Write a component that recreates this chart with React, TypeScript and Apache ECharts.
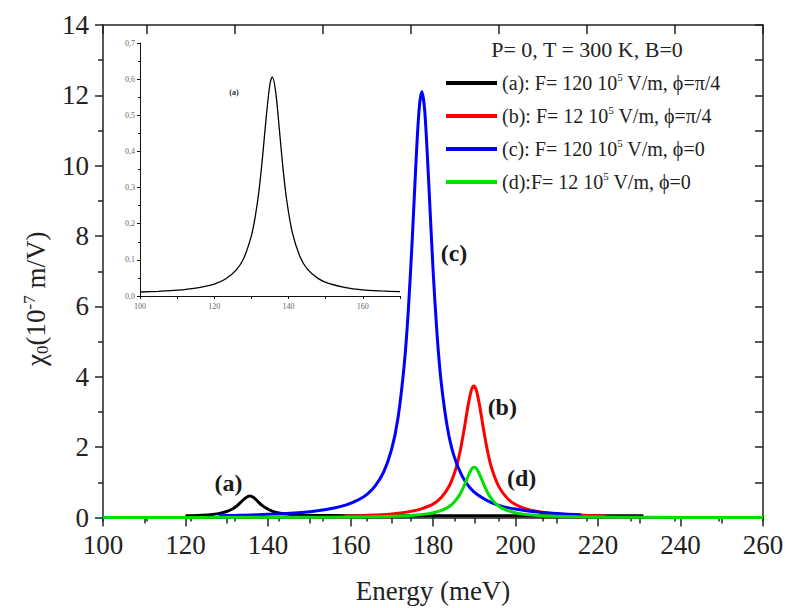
import React, { useEffect, useRef } from 'react';
import * as echarts from 'echarts';

const SERIF = "'Liberation Serif', serif";

// Inset: curve (a) enlarged
const insetX = [100, 105, 110, 115, 120, 123, 126, 128, 130, 131, 132, 133, 134, 135, 135.6, 136.5, 137.5, 138.5, 139.5, 141, 143, 145, 148, 151, 155, 160, 165, 170];
const insetY = [0.011, 0.013, 0.016, 0.022, 0.033, 0.047, 0.073, 0.106, 0.167, 0.218, 0.289, 0.385, 0.497, 0.588, 0.606, 0.567, 0.463, 0.353, 0.265, 0.176, 0.111, 0.075, 0.048, 0.034, 0.024, 0.017, 0.014, 0.012];
const insetXTicks = [100, 170, 20];
const insetYTicks = [0, 0.7, 0.1];

// (a) F=120, phi=pi/4 (black)
const aX = [120, 123, 126, 128, 130, 131, 132, 133, 134, 135, 135.6, 136.5, 137.5, 138.5, 139.5, 141, 143, 146, 150, 155, 165, 180, 200, 231];
const aY = [0.05, 0.06, 0.08, 0.11, 0.17, 0.22, 0.29, 0.39, 0.5, 0.59, 0.61, 0.57, 0.46, 0.35, 0.27, 0.18, 0.12, 0.08, 0.06, 0.055, 0.05, 0.05, 0.05, 0.05];

// (b) F=12, phi=pi/4 (red)
const bX = [158.5, 162, 166, 170, 174, 177, 180, 182, 184, 185.5, 186.5, 187.5, 188.5, 189.3, 189.9, 190.5, 191.3, 192.3, 193.3, 194.3, 196, 198, 200, 203, 206, 210, 215, 222];
const bY = [0.04, 0.05, 0.07, 0.1, 0.16, 0.24, 0.38, 0.57, 0.91, 1.37, 1.84, 2.47, 3.18, 3.62, 3.74, 3.62, 3.18, 2.47, 1.84, 1.37, 0.87, 0.55, 0.37, 0.23, 0.16, 0.1, 0.07, 0.04];

// (c) F=120, phi=0 (blue)
const cX = [128, 132, 136, 140, 144, 148, 152, 156, 159, 162, 164, 166, 168, 170, 171.5, 173, 174, 175, 176, 176.7, 177.3, 178, 179, 180, 181, 182, 183.5, 185, 187, 189, 191, 194, 197, 200, 204, 208, 212, 216];
const cY = [0.05, 0.06, 0.07, 0.09, 0.11, 0.14, 0.19, 0.27, 0.36, 0.51, 0.66, 0.9, 1.28, 1.95, 2.82, 4.31, 5.86, 7.98, 10.39, 11.69, 12.1, 11.55, 9.44, 7.07, 5.18, 3.83, 2.55, 1.78, 1.19, 0.84, 0.63, 0.43, 0.31, 0.24, 0.17, 0.13, 0.1, 0.08];

// (d) F=12, phi=0 (green)
const dX = [100, 120, 140, 155, 165, 172, 176, 179, 181.5, 183.5, 185, 186.5, 187.5, 188.5, 189.4, 190, 190.6, 191.5, 192.5, 193.5, 195, 196.5, 198.5, 201, 204, 208, 215, 225, 240, 260];
const dY = [0, 0, 0.01, 0.01, 0.02, 0.04, 0.07, 0.11, 0.18, 0.28, 0.42, 0.65, 0.89, 1.17, 1.38, 1.43, 1.38, 1.17, 0.89, 0.65, 0.42, 0.28, 0.18, 0.11, 0.07, 0.04, 0.02, 0.01, 0, 0];

const seriesColors = ['#000000', '#ff0000', '#0000ff', '#00e000'];
const legendParts = [
  ['(a): F= 120 10', '5', ' V/m, ϕ=π/4'],
  ['(b): F= 12 10', '5', ' V/m, ϕ=π/4'],
  ['(c): F= 120 10', '5', ' V/m, ϕ=0'],
  ['(d):F= 12 10', '5', ' V/m, ϕ=0'],
];
const legendTitle = 'P= 0, T = 300 K, B=0';

const mainXTicks = [100, 260, 20];
const mainYTicks = [0, 14, 2];

const annotText = ['(a)', '(b)', '(c)', '(d)'];
const annotX = [130.4, 196.8, 185.1, 201.5];
const annotY = [0.97, 3.15, 7.52, 1.12];
const insetAnnot = { text: '(a)', x: 125.3, y: 0.562 };

const zip = (xs: number[], ys: number[]) => xs.map((x, i) => [x, ys[i]]);

export default function App() {
  const ref = useRef<HTMLDivElement>(null);
  useEffect(() => {
    document.body.style.margin = '0';
    const chart = echarts.init(ref.current!, null, { renderer: 'svg' });
    const names = legendParts.map((p) => p.join(''));
    const dataSets = [zip(aX, aY), zip(bX, bY), zip(cX, cY), zip(dX, dY)];
    const axisColor = '#222';
    const lineStyle = { color: axisColor, width: 1.5 };

    const mainSeries = dataSets.map((data, i) => ({
      name: names[i],
      type: 'line',
      xAxisIndex: 0,
      yAxisIndex: 0,
      data,
      smooth: 0.3,
      showSymbol: false,
      symbol: 'none',
      clip: false,
      color: seriesColors[i],
      lineStyle: { color: seriesColors[i], width: 3 },
      z: 3 + i,
      markPoint: {
        symbol: 'rect',
        symbolSize: 1,
        itemStyle: { color: 'rgba(0,0,0,0)' },
        label: {
          show: true,
          position: 'inside',
          formatter: annotText[i],
          fontFamily: SERIF,
          fontWeight: 'bold',
          fontSize: 24,
          color: '#1a1a1a',
        },
        data: [{ coord: [annotX[i], annotY[i]] }],
      },
    }));

    const option: any = {
      animation: false,
      backgroundColor: '#ffffff',
      textStyle: { fontFamily: SERIF },
      grid: [
        { left: 103, top: 25, width: 660, height: 492.5, outerBoundsMode: 'none' },
        { left: 140, top: 43, width: 260, height: 253, outerBoundsMode: 'none' },
        { left: 103, top: 25, width: 660, height: 492.5, outerBoundsMode: 'none' },
      ],
      xAxis: [
        {
          gridIndex: 0, type: 'value', position: 'bottom',
          min: mainXTicks[0], max: mainXTicks[1], interval: mainXTicks[2],
          name: 'Energy (meV)', nameLocation: 'middle', nameGap: 60,
          nameTextStyle: { fontFamily: SERIF, fontSize: 27, color: axisColor },
          axisLine: { show: true, onZero: false, lineStyle },
          axisTick: { show: true, inside: false, length: 9, lineStyle },
          minorTick: { show: true, splitNumber: 2, length: 6, lineStyle },
          axisLabel: { fontFamily: SERIF, fontSize: 27, color: axisColor, margin: 14 },
          splitLine: { show: false },
          minorSplitLine: { show: false },
        },
        {
          gridIndex: 0, type: 'value', position: 'top', inverse: true,
          min: 0, max: 15, interval: 2,
          axisLine: { show: true, onZero: false, lineStyle },
          axisTick: { show: true, inside: true, length: 9, lineStyle },
          axisLabel: { show: false },
          splitLine: { show: false },
        },
        {
          gridIndex: 2, type: 'value', position: 'top',
          min: 0, max: 15, interval: 1,
          axisLine: { show: false },
          axisTick: { show: true, inside: true, length: 4, lineStyle },
          axisLabel: { show: false },
          splitLine: { show: false },
        },
        {
          gridIndex: 1, type: 'value', position: 'bottom',
          min: insetXTicks[0], max: insetXTicks[1], interval: insetXTicks[2],
          axisLine: { show: true, onZero: false, lineStyle: { color: '#111', width: 1 } },
          axisTick: { show: true, inside: false, length: 3, lineStyle: { color: '#111', width: 1 } },
          minorTick: { show: true, splitNumber: 2, length: 3, lineStyle: { color: '#111', width: 1 } },
          axisLabel: { fontFamily: SERIF, fontSize: 8, color: '#666', margin: 6, showMaxLabel: false },
          splitLine: { show: false },
        },
      ],
      yAxis: [
        {
          gridIndex: 0, type: 'value', position: 'left',
          min: mainYTicks[0], max: mainYTicks[1], interval: mainYTicks[2],
          name: '{t|χ}{sub|0}{t|(10}{sup|-7}{t| m/V)}',
          nameLocation: 'middle', nameRotate: 90, nameGap: 50,
          nameTextStyle: {
            fontFamily: SERIF, fontSize: 27, color: axisColor, padding: [0, 55, 0, 0],
            rich: {
              t: { fontFamily: SERIF, fontSize: 27, lineHeight: 30, color: axisColor },
              sub: { fontFamily: SERIF, fontSize: 17, lineHeight: 8, color: axisColor, verticalAlign: 'bottom' },
              sup: { fontFamily: SERIF, fontSize: 17, lineHeight: 14, color: axisColor, verticalAlign: 'top' },
            },
          },
          axisLine: { show: true, onZero: false, lineStyle },
          axisTick: { show: true, inside: false, length: 8, lineStyle },
          minorTick: { show: true, splitNumber: 2, length: 5, lineStyle },
          axisLabel: { fontFamily: SERIF, fontSize: 27, color: axisColor, margin: 14 },
          splitLine: { show: false },
        },
        {
          gridIndex: 0, type: 'value', position: 'right',
          min: 0, max: 14, interval: 1,
          axisLine: { show: true, onZero: false, lineStyle },
          axisTick: { show: true, inside: true, length: 8, lineStyle },
          axisLabel: { show: false },
          splitLine: { show: false },
        },
        {
          gridIndex: 2, type: 'value', show: false, min: 0, max: 1,
          splitLine: { show: false },
        },
        {
          gridIndex: 1, type: 'value', position: 'left',
          min: insetYTicks[0], max: insetYTicks[1], interval: insetYTicks[2],
          axisLine: { show: true, onZero: false, lineStyle: { color: '#111', width: 1 } },
          axisTick: { show: true, inside: false, length: 3, lineStyle: { color: '#111', width: 1 } },
          minorTick: { show: true, splitNumber: 2, length: 2, lineStyle: { color: '#111', width: 1 } },
          axisLabel: {
            fontFamily: SERIF, fontSize: 8, color: '#666', margin: 5,
            formatter: (v: number) => v.toFixed(1).replace('.', ','),
          },
          splitLine: { show: false },
        },
      ],
      legend: {
        data: names,
        orient: 'vertical',
        left: 446,
        top: 71,
        padding: 0,
        itemGap: 9,
        itemWidth: 51,
        itemHeight: 4,
        icon: 'rect',
        selectedMode: false,
        formatter: (name: string) => {
          const i = names.indexOf(name);
          const p = legendParts[i];
          return `{t|${p[0]}}{s|${p[1]}}{t|${p[2]}}`;
        },
        textStyle: {
          fontFamily: SERIF, fontSize: 20, color: axisColor, lineHeight: 24,
          rich: {
            t: { fontFamily: SERIF, fontSize: 20, color: axisColor, lineHeight: 24 },
            s: { fontFamily: SERIF, fontSize: 11, color: axisColor, lineHeight: 12, verticalAlign: 'top' },
          },
        },
      },
      graphic: [
        {
          type: 'text',
          x: 587,
          y: 49,
          style: {
            text: legendTitle,
            fontFamily: SERIF,
            fontSize: 22,
            fill: axisColor,
            align: 'center',
            verticalAlign: 'middle',
          },
        },
      ],
      series: [
        {
          name: 'inset',
          type: 'line',
          xAxisIndex: 3,
          yAxisIndex: 3,
          data: zip(insetX, insetY),
          smooth: 0.3,
          showSymbol: false,
          symbol: 'none',
          color: '#000',
          lineStyle: { color: '#000', width: 1.3 },
          markPoint: {
            symbol: 'rect',
            symbolSize: 1,
            itemStyle: { color: 'rgba(0,0,0,0)' },
            label: {
              show: true, position: 'inside', formatter: insetAnnot.text,
              fontFamily: SERIF, fontWeight: 'bold', fontSize: 8, color: '#333',
            },
            data: [{ coord: [insetAnnot.x, insetAnnot.y] }],
          },
        },
        ...mainSeries,
      ],
    };
    chart.setOption(option);
    return () => chart.dispose();
  }, []);
  return (
    <div
      ref={ref}
      style={{ position: 'absolute', left: 0, top: 0, width: 785, height: 608, background: '#fff' }}
    />
  );
}
